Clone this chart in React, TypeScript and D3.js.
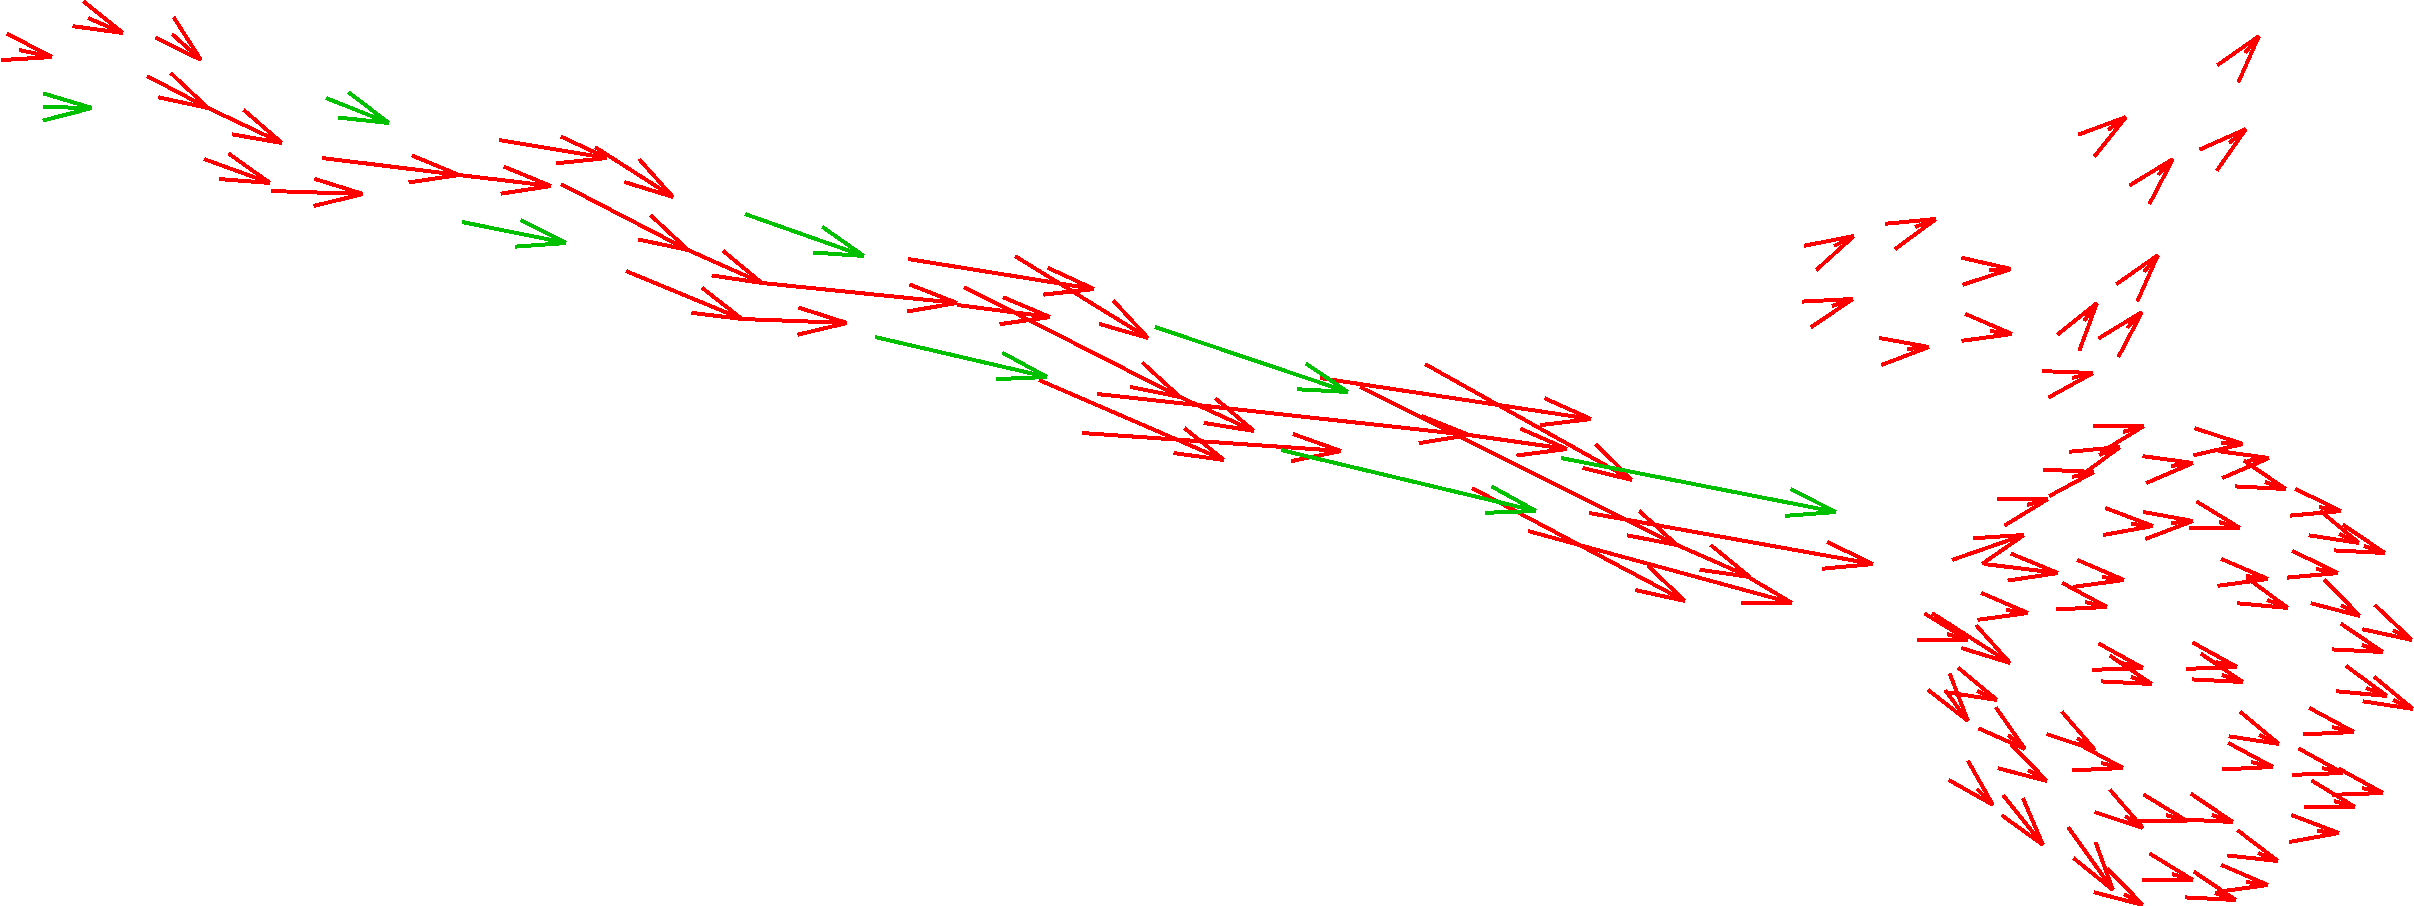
import * as d3 from "d3";

// each arrow: [tailX, tailY, tipX, tipY] in picture units
const trailArrows = [
  [19, 50, 52, 57],
  [88, 18, 123, 33],
  [172, 34, 201, 60],
  [147, 76, 208, 108],
  [208, 108, 282, 143],
  [204, 159, 270, 183],
  [271, 191, 363, 194],
  [322, 158, 459, 175],
  [499, 140, 607, 158],
  [459, 175, 551, 186],
  [595, 147, 673, 197],
  [561, 184, 688, 250],
  [688, 250, 762, 283],
  [762, 283, 957, 303],
  [908, 259, 1094, 289],
  [626, 271, 742, 319],
  [742, 319, 847, 323],
  [1015, 256, 1148, 338],
  [957, 305, 1050, 317],
  [964, 287, 1180, 397],
  [1180, 397, 1254, 431],
  [1039, 380, 1224, 460],
  [1097, 394, 1469, 435],
  [1082, 433, 1341, 451],
  [1320, 378, 1591, 419],
  [1360, 387, 1677, 545],
  [1425, 364, 1632, 480],
  [1469, 435, 1567, 449],
  [1472, 488, 1685, 601],
  [1528, 531, 1792, 603],
  [1589, 513, 1873, 564],
  [1677, 545, 1750, 577],
];

const greenArrows = [
  [43, 107, 92, 108],
  [326, 98, 389, 123],
  [462, 222, 566, 243],
  [745, 214, 864, 256],
  [875, 337, 1047, 377],
  [1281, 450, 1536, 511],
  [1155, 327, 1348, 392],
  [1561, 458, 1836, 512],
];

const scatterArrows = [
  [2245, 53, 2259, 36],
  [2108, 130, 2126, 117],
  [2229, 143, 2246, 129],
  [2158, 175, 2173, 159],
  [1834, 246, 1854, 236],
  [1915, 227, 1936, 219],
  [1989, 270, 2011, 269],
  [1832, 306, 1853, 299],
  [1907, 349, 1929, 347],
  [1990, 331, 2012, 334],
  [2144, 272, 2158, 255],
  [2084, 321, 2097, 303],
  [2127, 328, 2142, 312],
  [2072, 378, 2093, 373],
];

const vortexArrows = [
  [2123, 432, 2144, 426],
  [2099, 455, 2120, 447],
  [2072, 477, 2094, 472],
  [2027, 505, 2048, 499],
  [1952, 560, 2024, 535],
  [2171, 466, 2193, 463],
  [2221, 443, 2243, 444],
  [2247, 461, 2269, 458],
  [2265, 482, 2286, 489],
  [2319, 507, 2341, 511],
  [2339, 534, 2359, 543],
  [2364, 546, 2385, 553],
  [2171, 523, 2193, 521],
  [2131, 524, 2153, 526],
  [2219, 522, 2240, 528],
  [1984, 564, 2058, 573],
  [2102, 577, 2124, 580],
  [2085, 602, 2107, 607],
  [2006, 610, 2028, 613],
  [2246, 576, 2268, 579],
  [2267, 600, 2288, 608],
  [2316, 569, 2338, 573],
  [2341, 605, 2360, 616],
  [2393, 630, 2412, 640],
  [2362, 645, 2383, 652],
  [1932, 613, 2010, 663],
  [1947, 634, 1968, 640],
  [1977, 691, 1997, 700],
  [1945, 690, 1968, 721],
  [2008, 735, 2025, 749],
  [2028, 770, 2047, 781],
  [2003, 795, 2043, 845],
  [1977, 789, 1993, 805],
  [2101, 763, 2123, 768],
  [2077, 738, 2095, 750],
  [2125, 816, 2143, 828],
  [2212, 815, 2233, 822],
  [2166, 815, 2187, 821],
  [2172, 874, 2193, 880],
  [2215, 893, 2236, 900],
  [2246, 882, 2268, 885],
  [2124, 894, 2143, 905],
  [2068, 827, 2113, 890],
  [2258, 853, 2278, 861],
  [2251, 762, 2273, 767],
  [2259, 735, 2279, 744],
  [2332, 727, 2354, 732],
  [2317, 831, 2339, 833],
  [2322, 768, 2343, 773],
  [2362, 788, 2383, 793],
  [2334, 801, 2355, 807],
  [2393, 700, 2413, 709],
  [2366, 688, 2387, 696],
  [2122, 663, 2143, 668],
  [2131, 677, 2152, 684],
  [2216, 662, 2237, 667],
  [2222, 675, 2243, 682],
];

const width = 2414;
const height = 906;
const headLen = 51;
const headAngle = (15.5 * Math.PI) / 180;

const xScale = d3.scaleLinear().domain([0, 2414]).range([0, width]);
const yScale = d3.scaleLinear().domain([0, 906]).range([0, height]);

function arrowPath(a: number[]) {
  const x0 = xScale(a[0]);
  const y0 = yScale(a[1]);
  const x1 = xScale(a[2]);
  const y1 = yScale(a[3]);
  const ang = Math.atan2(y1 - y0, x1 - x0);
  const p = d3.path();
  p.moveTo(x0, y0);
  p.lineTo(x1, y1);
  for (const s of [-1, 1]) {
    p.moveTo(x1 - headLen * Math.cos(ang + s * headAngle), y1 - headLen * Math.sin(ang + s * headAngle));
    p.lineTo(x1, y1);
  }
  return p.toString();
}

export default function App() {
  const red = [...trailArrows, ...scatterArrows, ...vortexArrows];
  return (
    <svg
      width={width}
      height={height}
      style={{ position: "absolute", left: 0, top: 0, background: "white" }}
    >
      {/* red tracks */}
      <g stroke="#ff0000" strokeWidth={4} fill="none" shapeRendering="crispEdges">
        {red.map((a, i) => (
          <path key={i} d={arrowPath(a)} />
        ))}
      </g>
      {/* green tracks */}
      <g stroke="#00c000" strokeWidth={4} fill="none" shapeRendering="crispEdges">
        {greenArrows.map((a, i) => (
          <path key={i} d={arrowPath(a)} />
        ))}
      </g>
    </svg>
  );
}
